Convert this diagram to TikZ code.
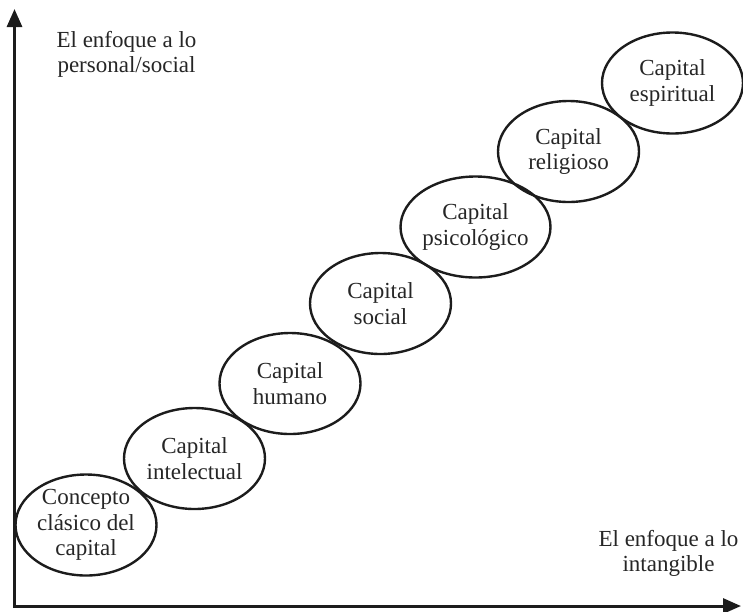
\documentclass[tikz,border=0pt]{standalone}
\usepackage{fontspec}
\setmainfont{Liberation Serif}
\usetikzlibrary{shapes.geometric,arrows.meta}
\definecolor{ink}{HTML}{1C1C1C}
\definecolor{txt}{HTML}{262626}
\begin{document}
\begin{tikzpicture}[x=1pt,y=-1pt,
  capnode/.style={draw=ink, line width=2.4pt, ellipse, minimum width=141pt, minimum height=101pt,
    inner sep=0pt, align=center, font=\fontsize{23}{25.5}\selectfont, text=txt},
  axlabel/.style={align=center, font=\fontsize{23}{25}\selectfont, text=txt, inner sep=0pt},
  axisline/.style={draw=ink, line width=3pt, -{Triangle[length=18pt,width=15pt]}}]
\useasboundingbox (0,0) rectangle (743,611);
\coordinate (O) at (14.5,606);
\coordinate (Ytop) at (14.5,9);
\coordinate (Xend) at (741,606);
\draw[axisline] (O) -- (Ytop);
\draw[axisline] ([xshift=-1.5pt]O) -- (Xend);

\node[capnode] (a) at (86,525) {Concepto\\clásico del\\capital};
\node[capnode] (b) at (194.5,458.5) {Capital\\intelectual};
\node[capnode] (c) at (290,383.5) {Capital\\humano};
\node[capnode] (d) at (380.5,303.5) {Capital\\social};
\node[capnode] (e) at (475.5,227) {Capital\\psicológico};
\node[capnode] (f) at (568.5,151.5) {Capital\\religioso};
\node[capnode] (g) at (672.5,83) {Capital\\espiritual};

\node[axlabel] (ylab) at (126.5,54) {El enfoque a lo\\personal/social};
\node[axlabel] (xlab) at (668.5,553) {El enfoque a lo\\intangible};
\end{tikzpicture}
\end{document}
